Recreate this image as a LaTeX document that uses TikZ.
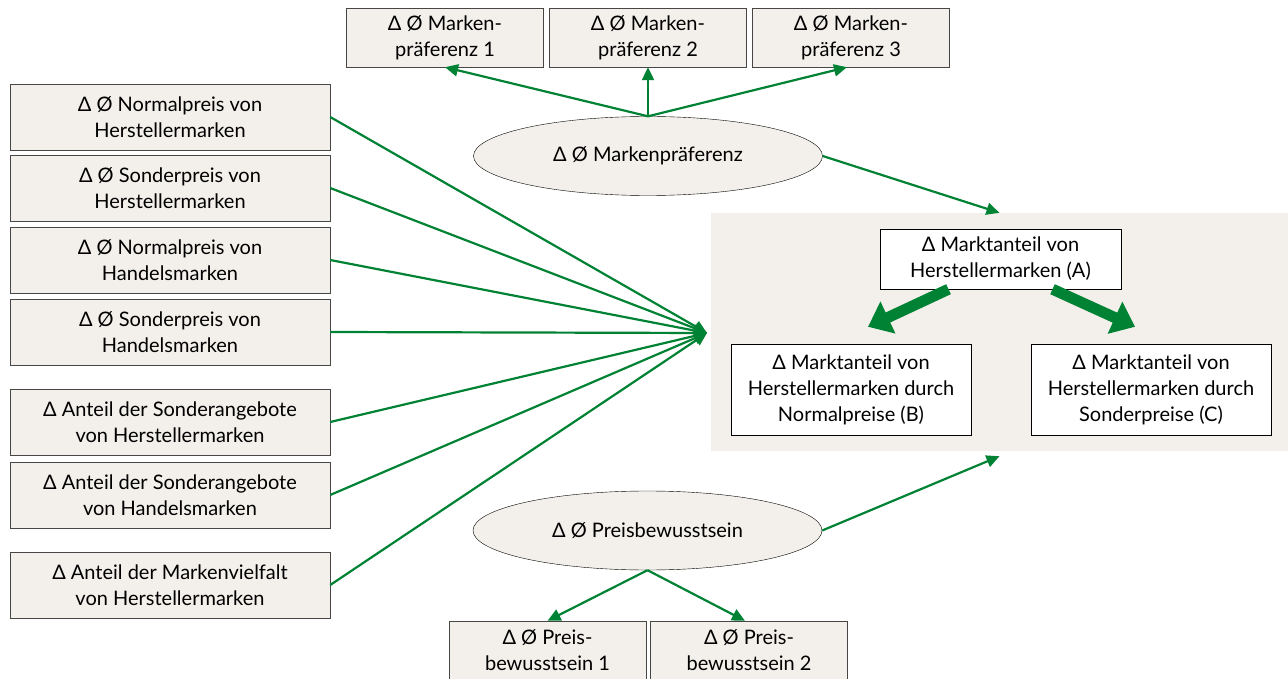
\documentclass[tikz,border=0pt]{standalone}
\usepackage{fontspec}
\setmainfont{Lato}
\usepackage{tikz}
\usetikzlibrary{shapes.geometric, arrows.meta}
\definecolor{arrgreen}{RGB}{0,130,52}
\definecolor{boxfill}{RGB}{243,240,235}
\definecolor{boxline}{RGB}{70,70,70}

\begin{document}
\begin{tikzpicture}[x=1pt, y=-1pt,
    font=\fontsize{20}{26}\selectfont,
    box/.style={draw=boxline, fill=boxfill, align=center, inner sep=0pt},
    leftbox/.style={box, minimum width=320pt, minimum height=66pt},
    smallbox/.style={box, minimum width=197pt, minimum height=59pt},
    resbox/.style={draw=black, fill=white, align=center, inner sep=0pt},
    oval/.style={ellipse, draw=black, fill=boxfill, minimum width=349pt, minimum height=79pt},
    arr/.style={draw=arrgreen, line width=2.2pt, -{Triangle[length=13pt, width=12pt]}},
    fatarr/.style={draw=arrgreen, line width=11pt, -{Triangle[length=22pt, width=34pt]}}]
    \useasboundingbox (0,0) rectangle (1288,679);
    \fill[boxfill] (711,213) rectangle (1288,451);
    \node[inner sep=0pt, minimum width=577pt, minimum height=238pt] (bg) at (999.5,332) {};

    \node[smallbox] (mp1) at (445,37.5) {Δ Ø Marken-\\präferenz 1};
    \node[smallbox] (mp2) at (648,37.5) {Δ Ø Marken-\\präferenz 2};
    \node[smallbox] (mp3) at (851,37.5) {Δ Ø Marken-\\präferenz 3};
    \node[oval] (mp) at (648,156) {Δ Ø Markenpräferenz};

    \node[leftbox] (np1) at (170,117) {Δ Ø Normalpreis von\\Herstellermarken};
    \node[leftbox] (sp1) at (170,188) {Δ Ø Sonderpreis von\\Herstellermarken};
    \node[leftbox] (np2) at (170,260) {Δ Ø Normalpreis von\\Handelsmarken};
    \node[leftbox] (sp2) at (170,332) {Δ Ø Sonderpreis von\\Handelsmarken};
    \node[leftbox] (sa1) at (170,422) {Δ Anteil der Sonderangebote\\von Herstellermarken};
    \node[leftbox] (sa2) at (170,495) {Δ Anteil der Sonderangebote\\von Handelsmarken};
    \node[leftbox] (mv) at (170,585) {Δ Anteil der Markenvielfalt\\von Herstellermarken};
    \coordinate (conv) at (707,333);

    \node[resbox, minimum width=241pt, minimum height=60pt] (mA) at (1000.5,259) {Δ Marktanteil von\\Herstellermarken (A)};
    \node[resbox, minimum width=240pt, minimum height=91pt] (mB) at (851,389.5) {Δ Marktanteil von\\Herstellermarken durch\\Normalpreise (B)};
    \node[resbox, minimum width=240pt, minimum height=91pt] (mC) at (1151,389.5) {Δ Marktanteil von\\Herstellermarken durch\\Sonderpreise (C)};

    \node[oval] (pb) at (647.5,530.5) {Δ Ø Preisbewusstsein};
    \node[smallbox] (pb1) at (547.5,650.5) {Δ Ø Preis-\\bewusstsein 1};
    \node[smallbox] (pb2) at (749,650.5) {Δ Ø Preis-\\bewusstsein 2};

    \draw[arr] (mp.north) -- (mp1.south);
    \draw[arr] (mp.north) -- (mp2.south);
    \draw[arr] (mp.north) -- ([xshift=-4pt]mp3.south);
    \draw[arr] (mp.east) -- (bg.north);

    \foreach \src in {np1, sp1, np2, sp2, sa1, sa2, mv}
        \draw[arr] (\src.east) -- (conv);

    \draw[fatarr] ([xshift=-52pt]mA.south) -- ([shift={(17pt,17pt)}]mB.north);
    \draw[fatarr] ([xshift=52pt]mA.south) -- ([shift={(-16pt,17pt)}]mC.north);

    \draw[arr] (pb.east) -- ([yshift=-5pt]bg.south);
    \draw[arr] (pb.south) -- (pb1.north);
    \draw[arr] (pb.south) -- ([xshift=-4pt]pb2.north);
\end{tikzpicture}
\end{document}
